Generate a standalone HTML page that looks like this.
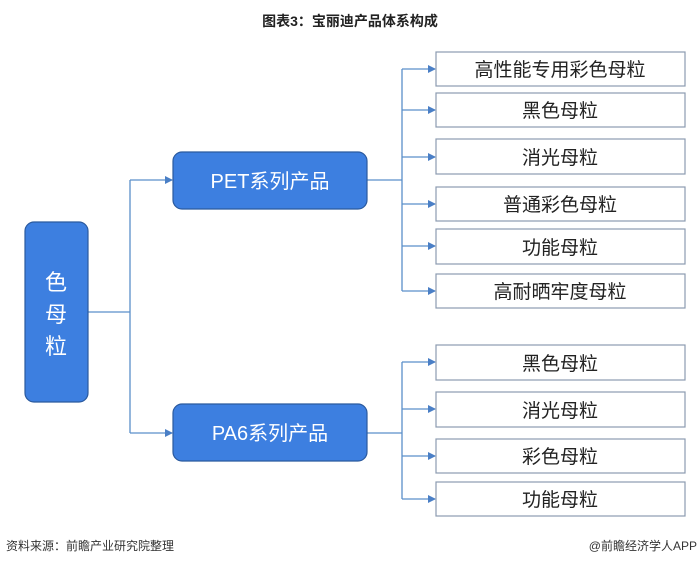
<!DOCTYPE html>
<html><head><meta charset="utf-8"><style>
body{margin:0;width:700px;height:565px;background:#fff;overflow:hidden;font-family:"Liberation Sans","Noto Sans CJK SC",sans-serif;}
</style></head><body>
<svg width="700" height="565" xmlns="http://www.w3.org/2000/svg" font-family="Liberation Sans, Noto Sans CJK SC, sans-serif">
<defs><marker id="a" markerWidth="8" markerHeight="8" refX="7" refY="4" orient="auto" markerUnits="userSpaceOnUse"><path d="M0,0 L8,4 L0,8 z" fill="#4a7fc6"/></marker></defs>
<text x="350" y="26" text-anchor="middle" font-size="14" font-weight="bold" fill="#222">图表3：宝丽迪产品体系构成</text>
<g stroke="#5b8fc9" stroke-width="1.3" fill="none">
<path d="M88 312 H130 M130 180 V433"/>
<path d="M130 180 H172" marker-end="url(#a)"/>
<path d="M130 433 H172" marker-end="url(#a)"/>
<path d="M367 180 H402 M402 69 V291"/>
<path d="M402 69 H435" marker-end="url(#a)"/>
<path d="M402 110 H435" marker-end="url(#a)"/>
<path d="M402 157 H435" marker-end="url(#a)"/>
<path d="M402 204 H435" marker-end="url(#a)"/>
<path d="M402 246 H435" marker-end="url(#a)"/>
<path d="M402 291 H435" marker-end="url(#a)"/>
<path d="M367 433 H402 M402 362 V499"/>
<path d="M402 362 H435" marker-end="url(#a)"/>
<path d="M402 409 H435" marker-end="url(#a)"/>
<path d="M402 456 H435" marker-end="url(#a)"/>
<path d="M402 499 H435" marker-end="url(#a)"/>
</g>
<rect x="25" y="222" width="63" height="180" rx="9" fill="#3d7fe0" stroke="#2b5a9e" stroke-width="1.2"/>
<text x="56" y="290" text-anchor="middle" font-size="22" fill="#fff">色</text>
<text x="56" y="322" text-anchor="middle" font-size="22" fill="#fff">母</text>
<text x="56" y="354" text-anchor="middle" font-size="22" fill="#fff">粒</text>
<rect x="173" y="152" width="194" height="57" rx="9" fill="#3d7fe0" stroke="#2b5a9e" stroke-width="1.2"/>
<text x="270" y="188" text-anchor="middle" font-size="20" fill="#fff">PET系列产品</text>
<rect x="173" y="404" width="194" height="57" rx="9" fill="#3d7fe0" stroke="#2b5a9e" stroke-width="1.2"/>
<text x="270" y="440" text-anchor="middle" font-size="20" fill="#fff">PA6系列产品</text>
<g fill="#fff" stroke="#8c9bb0" stroke-width="1.2">
<rect x="436" y="52" width="249" height="34"/>
<rect x="436" y="93" width="249" height="34"/>
<rect x="436" y="139" width="249" height="35"/>
<rect x="436" y="187" width="249" height="34"/>
<rect x="436" y="229" width="249" height="35"/>
<rect x="436" y="274" width="249" height="34"/>
<rect x="436" y="345" width="249" height="35"/>
<rect x="436" y="392" width="249" height="35"/>
<rect x="436" y="439" width="249" height="34"/>
<rect x="436" y="482" width="249" height="34"/>
</g>
<g font-size="19" fill="#222" text-anchor="middle">
<text x="560" y="76">高性能专用彩色母粒</text>
<text x="560" y="117">黑色母粒</text>
<text x="560" y="164">消光母粒</text>
<text x="560" y="211">普通彩色母粒</text>
<text x="560" y="254">功能母粒</text>
<text x="560" y="298">高耐晒牢度母粒</text>
<text x="560" y="370">黑色母粒</text>
<text x="560" y="417">消光母粒</text>
<text x="560" y="463">彩色母粒</text>
<text x="560" y="506">功能母粒</text>
</g>
<text x="6" y="550" font-size="12" fill="#333">资料来源：前瞻产业研究院整理</text>
<text x="697" y="550" font-size="12" fill="#333" text-anchor="end">@前瞻经济学人APP</text>
</svg>
</body></html>
